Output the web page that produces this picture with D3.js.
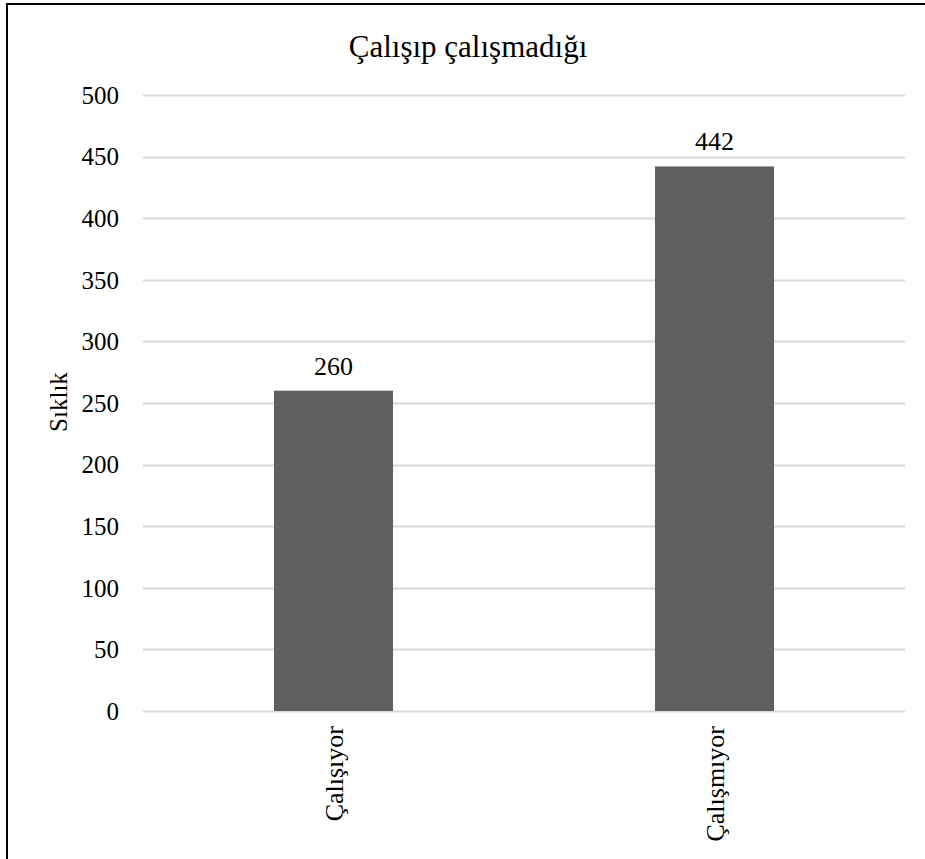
<!DOCTYPE html>
<html>
<head>
<meta charset="utf-8">
<script src="https://cdn.jsdelivr.net/npm/d3@7"></script>
<style>
  html, body { margin: 0; padding: 0; background: #fff; }
  svg { display: block; }
  text { font-family: "Liberation Serif", "Times New Roman", serif; fill: #000; }
</style>
</head>
<body>
<div id="chart"></div>
<script>
const categories = ["Çalışıyor", "Çalışmıyor"];
const values = [260, 442];
const yTicks = [0, 50, 100, 150, 200, 250, 300, 350, 400, 450, 500];
const title = "Çalışıp çalışmadığı";
const yLabel = "Sıklık";

const W = 925, H = 859;
const svg = d3.select("#chart").append("svg").attr("width", W).attr("height", H);
svg.append("rect").attr("width", W).attr("height", H).attr("fill", "#fff");

// outer border (right/bottom edges fall outside the picture)
svg.append("rect").attr("x", 7).attr("y", 4).attr("width", W + 10).attr("height", H + 10)
  .attr("fill", "none").attr("stroke", "#000").attr("stroke-width", 2);

const plot = { left: 143, right: 905, top: 95, bottom: 711 };

const x = d3.scaleBand().domain(categories).range([plot.left, plot.right]).padding(0);
const y = d3.scaleLinear().domain([0, 500]).range([plot.bottom, plot.top]);
const barW = x.bandwidth() * 0.3125;

// gridlines
svg.append("g").selectAll("line").data(yTicks).join("line")
  .attr("x1", plot.left).attr("x2", plot.right)
  .attr("y1", d => Math.round(y(d)) + 0.5).attr("y2", d => Math.round(y(d)) + 0.5)
  .attr("stroke", "#d9d9d9").attr("stroke-width", 2);

// y tick labels
svg.append("g").selectAll("text").data(yTicks).join("text")
  .attr("x", 119).attr("y", d => y(d)).attr("dy", "0.35em")
  .attr("text-anchor", "end").attr("font-size", 25)
  .text(d => d);

// bars
svg.append("g").selectAll("rect").data(values).join("rect")
  .attr("x", (d, i) => x(categories[i]) + (x.bandwidth() - barW) / 2)
  .attr("width", barW)
  .attr("y", d => y(d))
  .attr("height", d => y(0) - y(d))
  .attr("fill", "#5f5f5f");

// value labels
svg.append("g").selectAll("text").data(values).join("text")
  .attr("x", (d, i) => x(categories[i]) + x.bandwidth() / 2)
  .attr("y", d => y(d) - 16)
  .attr("text-anchor", "middle").attr("font-size", 26)
  .text(d => d);

// category labels (rotated)
svg.append("g").selectAll("text").data(categories).join("text")
  .attr("transform", d => `translate(${x(d) + x.bandwidth() / 2 + 9},${plot.bottom + 15}) rotate(-90)`)
  .attr("text-anchor", "end").attr("font-size", 26)
  .text(d => d);

// y axis title
svg.append("text")
  .attr("transform", `translate(67,402) rotate(-90)`)
  .attr("text-anchor", "middle").attr("font-size", 25)
  .text(yLabel);

// chart title
svg.append("text")
  .attr("x", 468).attr("y", 57)
  .attr("text-anchor", "middle").attr("font-size", 31)
  .text(title);
</script>
</body>
</html>
